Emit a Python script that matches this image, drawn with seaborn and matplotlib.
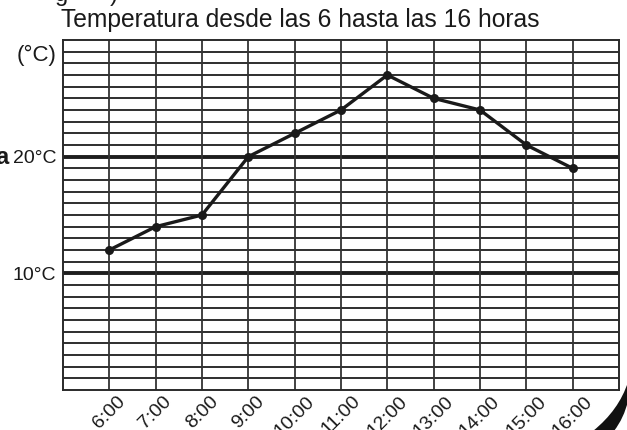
import matplotlib
matplotlib.use("Agg")
import matplotlib.pyplot as plt
import seaborn as sns
import pandas as pd
from matplotlib.path import Path
from matplotlib.patches import PathPatch

# Hourly temperature readings
horas = [6, 7, 8, 9, 10, 11, 12, 13, 14, 15, 16]
etiquetas = ["6:00", "7:00", "8:00", "9:00", "10:00", "11:00",
             "12:00", "13:00", "14:00", "15:00", "16:00"]
temperaturas = [12, 14, 15, 20, 22, 24, 27, 25, 24, 21, 19]
marcas_y = [10, 20]
etiquetas_y = ["10°C", "20°C"]

sns.set_style("white")
plt.rcParams["font.family"] = ["Liberation Sans", "DejaVu Sans"]

W, H = 627, 430
fig = plt.figure(figsize=(W / 100, H / 100), dpi=100)
ax = fig.add_axes([63 / W, 40 / H, (619 - 63) / W, 350 / H])

df = pd.DataFrame({"hora": horas, "temp": temperaturas})

ax.set_xlim(5, 17)
ax.set_ylim(0, 30)

# graph-paper grid: a line every degree, heavier at 10 and 20
for y in range(1, 30):
    ax.axhline(y, color="#1e1e1e", lw=2.8 if y in marcas_y else 1.3, zorder=1)
for x in range(6, 17):
    ax.axvline(x, color="#333333", lw=1.3, zorder=1)

sns.lineplot(data=df, x="hora", y="temp", ax=ax, color="#1a1a1a",
             lw=2.4, marker="o", markersize=6.5, markeredgewidth=0,
             zorder=3)

for s in ax.spines.values():
    s.set_color("#2a2a2a")
    s.set_linewidth(1.4)

ax.set_xticks(horas, etiquetas, rotation=45, ha="center", fontsize=14,
              color="#1a1a1a")
ax.set_yticks(marcas_y, etiquetas_y, fontsize=14, color="#1a1a1a")
ax.tick_params(axis="both", length=0)
ax.tick_params(axis="y", pad=5)
ax.tick_params(axis="x", pad=2)
ax.set_xlabel("")
ax.set_ylabel("")

ax.text(-0.011, 28.7, "(°C)", transform=ax.get_yaxis_transform(),
        ha="right", va="center", fontsize=16, color="#1a1a1a")

fig.text(61 / W, 1 - 27 / H, "Temperatura desde las 6 hasta las 16 horas",
         ha="left", va="baseline", fontsize=17.7, color="#1a1a1a")

# partial lettering running off the page edges
fig.text(55 / W, 1 - 1.5 / H, "g", ha="left", va="baseline",
         fontsize=17, color="#1a1a1a")
fig.text(110 / W, 1 - 1.5 / H, ")", ha="left", va="baseline",
         fontsize=17, color="#1a1a1a")
fig.text(9 / W, 1 - 157 / H, "a", ha="right", va="center",
         fontsize=17, fontweight="bold", color="#1a1a1a")

# dark curved band in the lower-right corner
def px(x, y):
    return (x / W, 1 - y / H)

verts = [px(628, 382), px(619, 410), px(593, 431),
         px(614, 431), px(624, 418), px(628, 401), px(628, 382)]
codes = [Path.MOVETO, Path.CURVE3, Path.CURVE3,
         Path.LINETO, Path.CURVE3, Path.CURVE3, Path.CLOSEPOLY]
fig.patches.append(PathPatch(Path(verts, codes), transform=fig.transFigure,
                             facecolor="#111111", edgecolor="none"))

fig.savefig("out.png", dpi=100)
